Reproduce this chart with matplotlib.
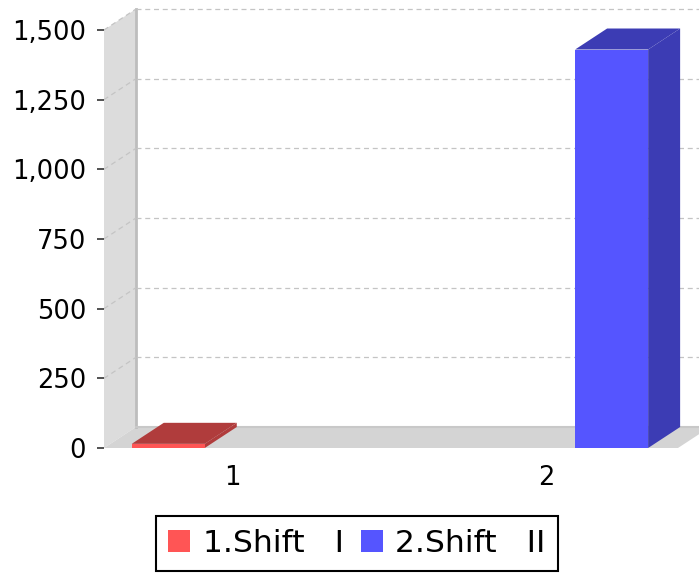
import matplotlib.pyplot as plt
from matplotlib.patches import Polygon, Patch
from matplotlib.ticker import FuncFormatter

# data
categories = ["1", "2"]
series_names = ["1.Shift   I", "2.Shift   II"]
shift1 = [15, 0]
shift2 = [0, 1430]
front_colors = ["#ff5555", "#5555ff"]
dark_colors = ["#b03c3c", "#3c3cb4"]

fig = plt.figure(figsize=(6.99, 5.74), dpi=100)
ax = fig.add_axes([104 / 699, 126 / 574, 574 / 699, 418 / 574])

xmin, xmax = -128 / 314, 446 / 314
ymin, ymax = 0, 1500
ax.set_xlim(xmin, xmax)
ax.set_ylim(ymin, ymax)

# 3d offset (32 px right, 21 px up) in data units
dx = 32 / 314
dy = 21 * 1500 / 418

# walls
ax.add_patch(Polygon([(xmin, 0), (xmin, ymax), (xmin + dx, ymax + dy), (xmin + dx, dy)],
                     closed=True, fc="#dcdcdc", ec="none", clip_on=False, zorder=0))
ax.add_patch(Polygon([(xmin, 0), (xmax, 0), (xmax + dx, dy), (xmin + dx, dy)],
                     closed=True, fc="#d4d4d4", ec="none", clip_on=False, zorder=0))
ax.plot([xmin + dx, xmin + dx], [dy, ymax + dy], color="#bdbdbd", lw=2, clip_on=False, zorder=1)
ax.plot([xmin + dx, xmax + dx], [dy, dy], color="#c8c8c8", lw=1.5, clip_on=False, zorder=1)

# gridlines
ticks = [0, 250, 500, 750, 1000, 1250, 1500]
for t in ticks[1:]:
    ax.plot([xmin, xmin + dx], [t, t + dy], color="#c4c4c4", lw=0.9, ls=(0, (4, 3)),
            clip_on=False, zorder=1)
    ax.plot([xmin + dx, xmax + dx], [t + dy, t + dy], color="#c4c4c4", lw=0.9,
            ls=(0, (4, 3)), clip_on=False, zorder=1)

# bars
w = 73 / 314
offsets = [-0.203, 0.209]
for i, vals in enumerate([shift1, shift2]):
    for j, v in enumerate(vals):
        if v <= 0:
            continue
        x0 = j + offsets[i] - w / 2
        x1 = x0 + w
        ax.add_patch(Polygon([(x1, 0), (x1 + dx, dy), (x1 + dx, v + dy), (x1, v)],
                             closed=True, fc=dark_colors[i], ec="none", clip_on=False, zorder=3))
        ax.add_patch(Polygon([(x0, v), (x1, v), (x1 + dx, v + dy), (x0 + dx, v + dy)],
                             closed=True, fc=dark_colors[i], ec="none", clip_on=False, zorder=3))
        ax.add_patch(Polygon([(x0, 0), (x1, 0), (x1, v), (x0, v)],
                             closed=True, fc=front_colors[i], ec="none", clip_on=False, zorder=4))

for s in ax.spines.values():
    s.set_visible(False)
ax.patch.set_visible(False)

ax.set_yticks(ticks)
ax.yaxis.set_major_formatter(FuncFormatter(lambda v, p: f"{v:,.0f}"))
ax.tick_params(axis="y", length=5, width=1.2, pad=8, labelsize=18.5, color="#333333")
ax.set_xticks(range(len(categories)))
ax.set_xticklabels(categories)
ax.tick_params(axis="x", length=0, pad=12, labelsize=18.5)

handles = [Patch(fc=c, ec="none") for c in front_colors]
leg = fig.legend(handles, series_names, loc="center", bbox_to_anchor=(357 / 699, 30.5 / 574),
                 ncol=2, fontsize=22.6, frameon=True, fancybox=False, framealpha=1,
                 edgecolor="black", handlelength=0.7, handleheight=0.7, handletextpad=0.4,
                 columnspacing=0.55, borderpad=0.4, borderaxespad=0)
leg.get_frame().set_linewidth(1.5)

fig.savefig("out.png", dpi=100)
